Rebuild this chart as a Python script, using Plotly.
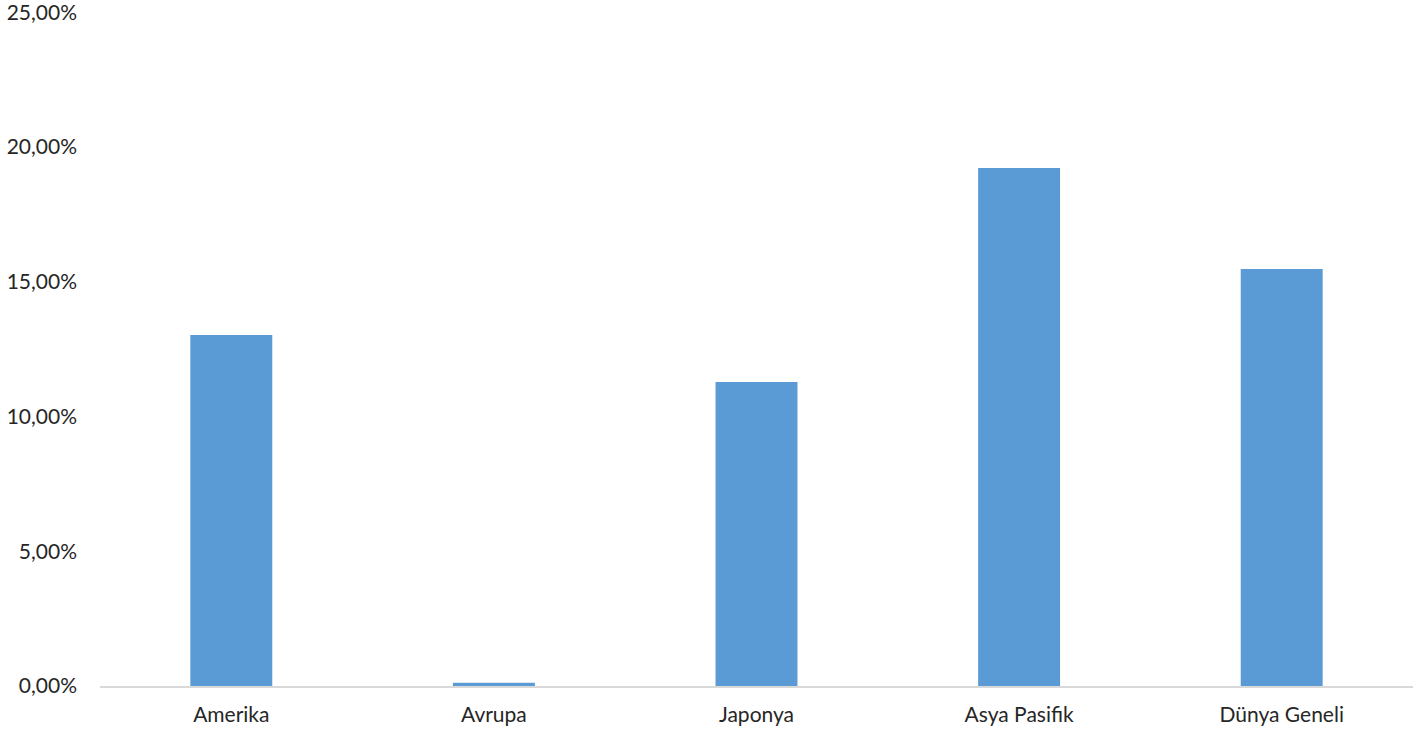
import plotly.graph_objects as go

categories = ["Amerika", "Avrupa", "Japonya", "Asya Pasifik", "Dünya Geneli"]
values = [0.1302, 0.0012, 0.1128, 0.1922, 0.1547]
tick_vals = [0, 0.05, 0.10, 0.15, 0.20, 0.25]
tick_text = ["0,00%", "5,00%", "10,00%", "15,00%", "20,00%", "25,00%"]

fig = go.Figure(go.Bar(x=categories, y=values, marker_color="#5B9BD5",
                       marker_line_width=0, cliponaxis=False))

fig.update_layout(
    width=1418, height=735,
    margin=dict(l=100, r=5, t=12, b=49),
    paper_bgcolor="white", plot_bgcolor="rgba(0,0,0,0)",
    bargap=0.688,
    font=dict(family="Lato", size=21, color="#262626"),
    showlegend=False,
)
fig.update_yaxes(range=[0, 0.2501], tickvals=tick_vals, ticktext=tick_text,
                 showgrid=False, zeroline=False, showline=False,
                 ticklabelstandoff=22, ticklabeloverflow="allow",
                 automargin=False)
fig.update_xaxes(showline=True, linecolor="#D9D9D9", linewidth=2,
                 showgrid=False, ticklabelstandoff=9, automargin=False)

fig.write_html("out.html", config={"displayModeBar": False},
               post_script="document.body.style.margin='0px';document.body.style.overflow='hidden';")
